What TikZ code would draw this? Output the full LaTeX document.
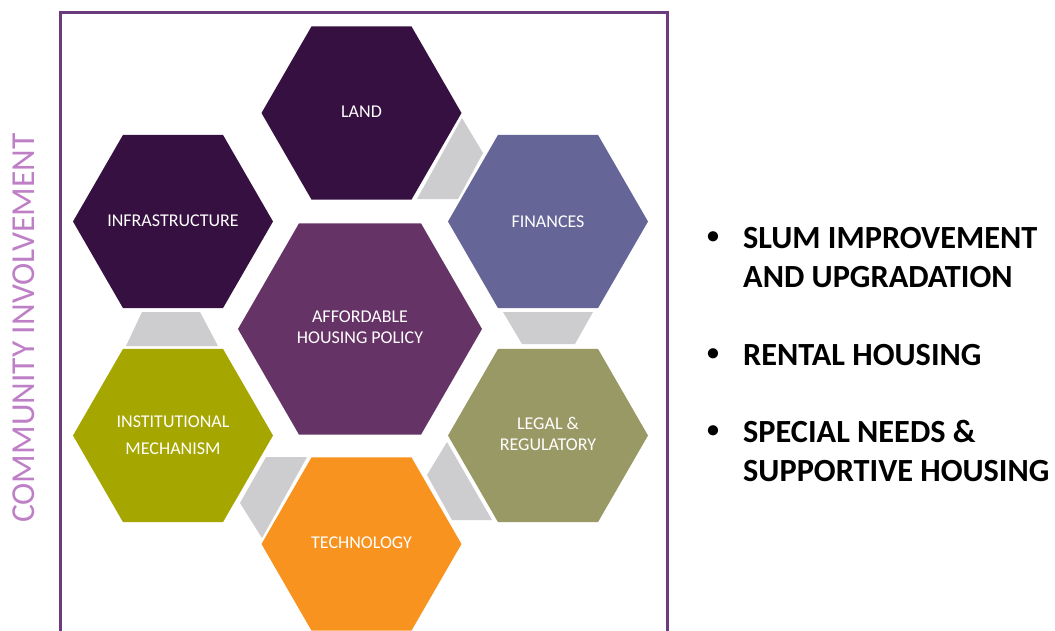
\documentclass[tikz,border=0pt]{standalone}
\usepackage{fontspec}
\setmainfont{Carlito}
\definecolor{landcol}{RGB}{54,16,64}
\definecolor{fincol}{RGB}{101,101,151}
\definecolor{ctrcol}{RGB}{102,51,102}
\definecolor{instcol}{RGB}{166,166,0}
\definecolor{legalcol}{RGB}{153,153,102}
\definecolor{techcol}{RGB}{247,147,30}
\definecolor{linkcol}{RGB}{205,205,207}
\definecolor{framecol}{RGB}{107,59,123}
\definecolor{commcol}{RGB}{191,127,199}
\newcommand\hexa[4]{\fill[#4] (#1,#2) +(0:#3) -- +(60:#3) -- +(120:#3) -- +(180:#3) -- +(240:#3) -- +(300:#3) -- cycle;}
\tikzset{
  lbl/.style={text=white, inner sep=0pt, font=\fontsize{18}{20.5}\selectfont, align=center},
  bul/.style={anchor=center, inner sep=0pt, font=\bfseries\fontsize{24}{30}\selectfont},
  item/.style={anchor=base west, inner sep=0pt, font=\bfseries\fontsize{32.3}{39}\selectfont},
  link/.style={fill=linkcol}
}
\begin{document}
\begin{tikzpicture}[x=1pt,y=-1pt]
\useasboundingbox (0,0) rectangle (1055,630);
\clip (0,0) rectangle (1055,630);
\fill[white] (0,0) rectangle (1055,630);
% frame
\draw[line width=3pt, framecol] (60,12) rectangle (667,660);
% gray links
\fill[link] (462,118) -- (483,153) -- (458,199) -- (417,199) -- cycle;
\fill[link] (142,312) -- (200,312) -- (218,346) -- (126,346) -- cycle;
\fill[link] (503,312) -- (593,312) -- (575,344) -- (522,344) -- cycle;
\fill[link] (266,457) -- (307,457) -- (262,538) -- (240,503) -- cycle;
\fill[link] (447,442) -- (427,475) -- (452,520) -- (492,520) -- cycle;
% hexagons
\hexa{361.5}{113}{100}{landcol}
\hexa{173}{221.5}{100}{landcol}
\hexa{548}{221.5}{100}{fincol}
\hexa{360}{329}{122}{ctrcol}
\hexa{173}{435.5}{100}{instcol}
\hexa{548}{435.5}{100}{legalcol}
\hexa{361.5}{544}{100}{techcol}
% labels
\node[lbl] (land) at (361.5,112) {LAND};
\node[lbl] (infra) at (173,221) {INFRASTRUCTURE};
\node[lbl] (fin) at (548,221.5) {FINANCES};
\node[lbl] (afford) at (360,327) {AFFORDABLE\\HOUSING POLICY};
\node[lbl] (inst) at (173,435) {INSTITUTIONAL\\[7pt]MECHANISM};
\node[lbl] (legal) at (548,434) {LEGAL \&\\REGULATORY};
\node[lbl] (tech) at (361.5,543) {TECHNOLOGY};
% community involvement
\node[rotate=90, inner sep=0pt, text=commcol, font=\fontsize{33.5}{36}\selectfont] (comm) at (23.5,328) {COMMUNITY INVOLVEMENT};
% bullets
\node[bul] (b1) at (713,238) {•};
\node[item] (i1a) at (743,248) {SLUM IMPROVEMENT};
\node[item] (i1b) at (743,287) {AND UPGRADATION};
\node[bul] (b2) at (713,355) {•};
\node[item] (i2a) at (743,365) {RENTAL HOUSING};
\node[bul] (b3) at (713,432) {•};
\node[item] (i3a) at (743,442) {SPECIAL NEEDS \&};
\node[item] (i3b) at (743,481) {SUPPORTIVE HOUSING};
\end{tikzpicture}
\end{document}
